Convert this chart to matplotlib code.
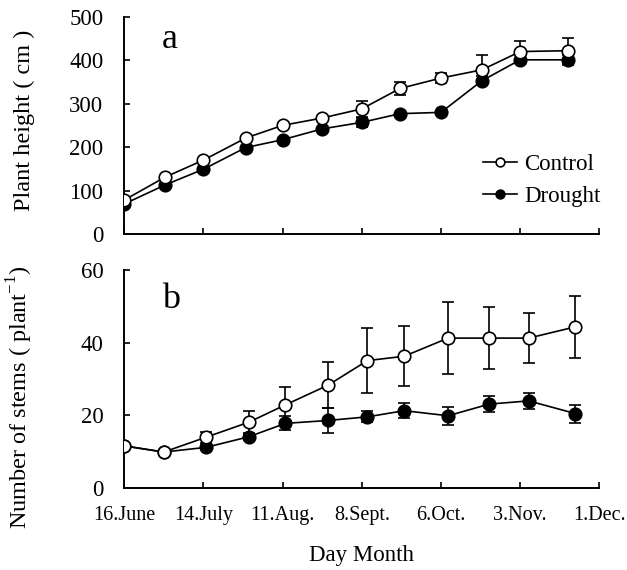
import numpy as np
from matplotlib import pyplot as plt

plt.rcParams['font.family'] = ['Liberation Serif', 'DejaVu Serif']

# days since 16 June
days_a = [0, 14.5, 28, 43, 56, 70, 84, 97.5, 112, 126.5, 140, 157]
days_b = [0, 14, 29, 44, 57, 72, 86, 99, 114.5, 129, 143, 159.5]

height_ctrl = [78, 131, 170, 221, 250, 267, 288, 335, 359, 378, 420, 422]
height_ctrl_err = [0, 0, 0, 0, 0, 0, 19, 16, 12, 33, 25, 29]
height_drt = [69, 113, 149, 199, 217, 242, 257, 277, 280, 353, 401, 401]
height_drt_err = [0, 0, 0, 0, 0, 0, 10, 0, 0, 10, 0, 12]

stems_ctrl = [11.6, 9.9, 14.0, 18.1, 22.9, 28.3, 35.1, 36.3, 41.3, 41.3, 41.3, 44.4]
stems_ctrl_err = [0, 0, 1.5, 3.1, 5.0, 6.3, 9.0, 8.2, 10.0, 8.6, 6.8, 8.6]
stems_drt = [11.6, 9.9, 11.2, 14.1, 17.8, 18.6, 19.6, 21.3, 19.9, 23.1, 24.0, 20.5]
stems_drt_err = [0, 0, 0.5, 1.0, 1.9, 3.5, 1.5, 2.0, 2.5, 2.2, 2.3, 2.5]

tick_days = [0, 28, 56, 84, 112, 140, 168]
tick_labels = ['16.June', '14.July', '11.Aug.', '8.Sept.', '6.Oct.', '3.Nov.', '1.Dec.']

fig = plt.figure(figsize=(6.27, 5.70), dpi=100)
ax1 = fig.add_axes([0.198, 0.5895, 0.758, 0.381])
ax2 = fig.add_axes([0.198, 0.1439, 0.758, 0.382])


def draw_series(ax, x, y, err, filled, label):
    ax.errorbar(x, y, yerr=err, color='black', lw=1.2, elinewidth=1.2,
                capsize=4, capthick=1.2, marker='o', markersize=9,
                markerfacecolor='black' if filled else 'white',
                markeredgecolor='black', markeredgewidth=1.2,
                label=label, zorder=3 if filled else 4)


def style_axis(ax):
    for side in ['top', 'right']:
        ax.spines[side].set_visible(False)
    for side in ['left', 'bottom']:
        ax.spines[side].set_linewidth(1.4)
        ax.spines[side].set_color('black')
    ax.tick_params(direction='in', length=4, width=1.2)
    ax.tick_params(axis='y', pad=15, labelsize=16.5)
    ax.tick_params(axis='x', pad=13, labelsize=14.5)
    ax.set_xlim(0, 168)
    ax.set_xticks(tick_days)


draw_series(ax1, days_a, height_ctrl, height_ctrl_err, False, 'Control')
draw_series(ax1, days_a, height_drt, height_drt_err, True, 'Drought')
style_axis(ax1)
ax1.set_ylim(0, 500)
ax1.set_yticks([0, 100, 200, 300, 400, 500])
ax1.set_xticklabels([])
ax1.set_ylabel('Plant height ( cm )', fontsize=17.5)
ax1.yaxis.set_label_coords(-0.187, 0.525)
ax1.text(0.08, 0.857, 'a', transform=ax1.transAxes, fontsize=26)
handles, labels = ax1.get_legend_handles_labels()
leg = ax1.legend([h[0] for h in handles], labels, loc='lower right',
                 bbox_to_anchor=(1.045, 0.03), frameon=False, fontsize=16.5,
                 handlelength=1.5, handletextpad=0.3, labelspacing=0.45,
                 markerscale=0.7)

draw_series(ax2, days_b, stems_ctrl, stems_ctrl_err, False, 'Control')
draw_series(ax2, days_b, stems_drt, stems_drt_err, True, 'Drought')
style_axis(ax2)
ax2.set_ylim(0, 60)
ax2.set_yticks([0, 20, 40, 60])
ax2.set_xticklabels(tick_labels)
ax2.set_ylabel('Number of stems ( plant$^{\\mathregular{-1}}$)', fontsize=17.5)
ax2.yaxis.set_label_coords(-0.187, 0.417)
ax2.set_xlabel('Day Month', fontsize=16.5)
ax2.xaxis.set_label_coords(0.5, -0.26)
ax2.text(0.08, 0.826, 'b', transform=ax2.transAxes, fontsize=26)

fig.savefig('out.png', dpi=100)
